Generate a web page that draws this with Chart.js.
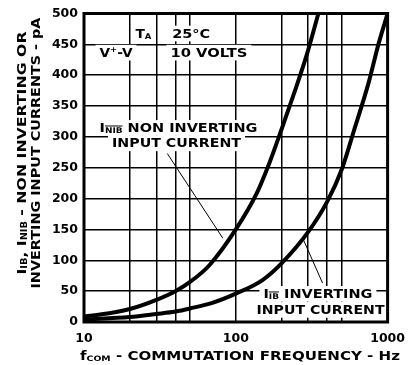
<!DOCTYPE html>
<html>
<head>
<meta charset="utf-8">
<script src="https://cdn.jsdelivr.net/npm/chart.js@4/dist/chart.umd.min.js"></script>
<style>
  html, body { margin: 0; padding: 0; background: #fff; }
  canvas { display: block; }
</style>
</head>
<body>
<canvas id="graphique" width="414" height="365"></canvas>
<script>
// courbes (Hz, pA)
const freqNonInv = [10, 15, 20, 30, 40, 50, 67, 100, 137, 166, 200, 240, 295, 350];
const courantNonInv = [9, 14.5, 21, 36, 50, 65, 92, 150, 208, 257, 312, 368, 435, 500];
const freqInv = [10, 20, 30, 40, 50, 70, 100, 150, 200, 300, 400, 500, 600, 750, 870, 1000];
const courantInv = [4, 8, 13, 17, 22, 31, 46, 68, 95, 146, 195, 248, 310, 388, 450, 500];

const grilleX = [10, 20, 30, 40, 50, 100, 200, 300, 400, 500, 1000];
const etiquettesX = [10, 100, 1000];
const POLICE = 'DejaVu Sans';

// textes dans le graphique : morceaux, position (Hz, pA), largeur
const notes = [
    { m: [['T', 'n'], ['A', 's']], f: 21.8, v: 461, w: 16 },
    { m: [['25\u00b0C', 'n']], f: 38.1, v: 461, w: 38 },
    { m: [['V', 'n'], ['+', 'p'], ['-V', 'n']], f: 12.65, v: 430, w: 33 },
    { m: [['10 VOLTS', 'n']], f: 37.1, v: 430, w: 77 },
    { m: [['I', 'n'], ['NIB', 'sb'], [' NON INVERTING', 'n']], f: 12.65, v: 308, w: 158 },
    { m: [['INPUT CURRENT', 'n']], f: 15.3, v: 283, w: 129 },
    { m: [['I', 'n'], ['IB', 'sb'], [' INVERTING', 'n']], f: 152, v: 39, w: 109 },
    { m: [['INPUT CURRENT', 'n']], f: 137, v: 13, w: 128 }
];
const fleches = [
    [[35.4, 273], [82, 136]],
    [[278, 134], [373, 63]]
];

function police(taille) {
    return 'bold ' + taille + 'px "' + POLICE + '"';
}

function ecrire(ctx, morceaux, x, y, taille, largeur, centre, fond) {
    const tailles = morceaux.map(m => m[1] === 'n' ? taille : taille * 0.62);
    const larg = morceaux.map((m, i) => {
        ctx.font = police(tailles[i]);
        return ctx.measureText(m[0]).width;
    });
    const total = larg.reduce((a, b) => a + b, 0);
    const sx = largeur / total;
    ctx.save();
    ctx.translate(x, y);
    ctx.scale(sx, 1);
    let cx = centre ? -total / 2 : 0;
    if (fond) {
        ctx.fillStyle = '#fff';
        ctx.fillRect(cx - 4 / sx, -taille * 0.95, total + 8 / sx, taille * 1.25);
    }
    ctx.fillStyle = '#000';
    ctx.strokeStyle = '#000';
    ctx.textBaseline = 'alphabetic';
    ctx.textAlign = 'left';
    morceaux.forEach((m, i) => {
        let dy = 0;
        if (m[1] === 's' || m[1] === 'sb') dy = taille * 0.08;
        if (m[1] === 'p') dy = -taille * 0.4;
        ctx.font = police(tailles[i]);
        ctx.fillText(m[0], cx, dy);
        if (m[1] === 'sb') {
            ctx.lineWidth = 1;
            ctx.beginPath();
            ctx.moveTo(cx, dy - tailles[i] * 0.9);
            ctx.lineTo(cx + larg[i], dy - tailles[i] * 0.9);
            ctx.stroke();
        }
        cx += larg[i];
    });
    ctx.restore();
}

const decor = {
    id: 'decor',
    beforeDatasetsDraw(chart) {
        const ctx = chart.ctx;
        const sx = chart.scales.x, sy = chart.scales.y;
        notes.forEach(n => {
            ecrire(ctx, n.m, sx.getPixelForValue(n.f), sy.getPixelForValue(n.v), 12.5, n.w, false, true);
        });
        ctx.save();
        ctx.strokeStyle = '#000';
        ctx.lineWidth = 1;
        fleches.forEach(l => {
            ctx.beginPath();
            ctx.moveTo(sx.getPixelForValue(l[0][0]), sy.getPixelForValue(l[0][1]));
            ctx.lineTo(sx.getPixelForValue(l[1][0]), sy.getPixelForValue(l[1][1]));
            ctx.stroke();
        });
        ctx.restore();
    },
    afterDatasetsDraw(chart) {
        const ctx = chart.ctx;
        const a = chart.chartArea;
        ctx.save();
        ctx.strokeStyle = '#000';
        ctx.lineWidth = 3;
        ctx.strokeRect(a.left, a.top, a.right - a.left, a.bottom - a.top);
        ctx.restore();
    },
    afterDraw(chart) {
        const ctx = chart.ctx;
        // titre de l'axe y, deux lignes tournees
        ctx.save();
        ctx.translate(26, 153);
        ctx.rotate(-Math.PI / 2);
        ecrire(ctx, [['I', 'n'], ['IB', 's'], [', I', 'n'], ['NIB', 's'], [' - NON INVERTING OR', 'n']], 0, 0, 13, 243, true, false);
        ctx.restore();
        ctx.save();
        ctx.translate(40, 153);
        ctx.rotate(-Math.PI / 2);
        ecrire(ctx, [['INVERTING INPUT CURRENTS - pA', 'n']], 0, 0, 13, 271, true, false);
        ctx.restore();
        // titre de l'axe x
        ecrire(ctx, [['f', 'n'], ['COM', 's'], [' - COMMUTATION FREQUENCY - Hz', 'n']], 80, 360, 12, 320, false, false);
    }
};

const ctx = document.getElementById('graphique').getContext('2d');
new Chart(ctx, {
    type: 'line',
    data: {
        datasets: [
            {
                label: 'INIB',
                data: freqNonInv.map((f, i) => ({ x: f, y: courantNonInv[i] })),
                borderColor: '#000',
                borderWidth: 4,
                pointRadius: 0,
                cubicInterpolationMode: 'monotone',
                fill: false
            },
            {
                label: 'IIB',
                data: freqInv.map((f, i) => ({ x: f, y: courantInv[i] })),
                borderColor: '#000',
                borderWidth: 4,
                pointRadius: 0,
                cubicInterpolationMode: 'monotone',
                fill: false
            }
        ]
    },
    options: {
        responsive: false,
        animation: false,
        devicePixelRatio: 1,
        layout: { padding: { left: 0, top: 13, right: 17, bottom: 0 } },
        plugins: { legend: { display: false }, tooltip: { enabled: false } },
        scales: {
            x: {
                type: 'logarithmic',
                min: 10,
                max: 1000,
                afterBuildTicks: s => { s.ticks = grilleX.map(v => ({ value: v })); },
                afterFit: s => { s.height = 43; },
                grid: { color: '#000', lineWidth: 1.5, drawTicks: false },
                border: { display: false },
                ticks: {
                    autoSkip: false,
                    maxRotation: 0,
                    padding: 9,
                    color: '#000',
                    font: { family: POLICE, weight: 'bold', size: 12.5 },
                    callback: v => etiquettesX.includes(v) ? String(v) : ''
                }
            },
            y: {
                min: 0,
                max: 500,
                afterFit: s => { s.width = 84; },
                grid: { color: '#000', lineWidth: 1.5, drawTicks: false },
                border: { display: false },
                ticks: {
                    stepSize: 50,
                    padding: 6,
                    color: '#000',
                    font: { family: POLICE, weight: 'bold', size: 12.5 }
                }
            }
        }
    },
    plugins: [decor]
});
</script>
</body>
</html>
